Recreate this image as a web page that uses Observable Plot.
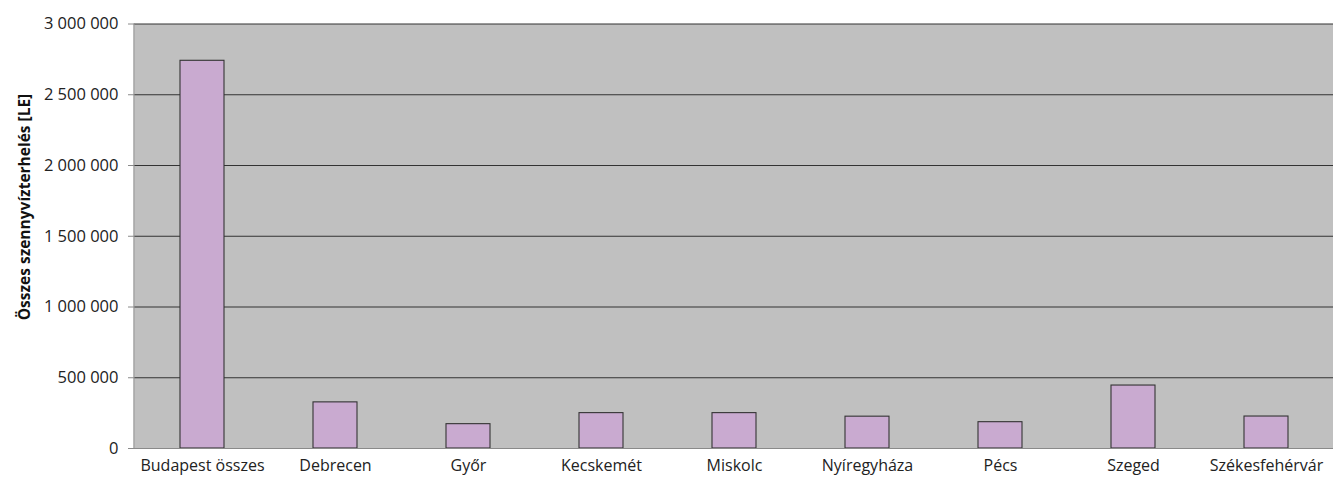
<!DOCTYPE html>
<html>
<head>
<meta charset="utf-8">
<script src="https://cdn.jsdelivr.net/npm/d3@7"></script>
<script src="https://cdn.jsdelivr.net/npm/@observablehq/plot@0.6"></script>
<style>
  html, body { margin: 0; padding: 0; background: #fff; }
  #chart svg { display: block; }
</style>
</head>
<body>
<div id="chart"></div>
<script>
const cities = ["Budapest összes", "Debrecen", "Győr", "Kecskemét", "Miskolc", "Nyíregyháza", "Pécs", "Szeged", "Székesfehérvár"];
const loads = [2740000, 326000, 172000, 250000, 250000, 225000, 186000, 445000, 226000];
const yTicks = [0, 500000, 1000000, 1500000, 2000000, 2500000, 3000000];
const yLabel = "Összes szennyvízterhelés [LE]";

const data = cities.map((c, i) => ({city: c, value: loads[i]}));
const fmt = d => d3.format(",")(d).replace(/,/g, " ");

const chart = Plot.plot({
  width: 1333,
  height: 482,
  marginLeft: 134,
  marginRight: 0,
  marginTop: 23.5,
  marginBottom: 34,
  style: {fontFamily: "'Open Sans', 'Noto Sans', sans-serif", fontSize: "16px", color: "#222", background: "#fff"},
  x: {domain: cities, paddingInner: 0.67, paddingOuter: 0.335, label: null},
  y: {domain: [0, 3000000], label: null},
  marks: [
    Plot.frame({fill: "#c0c0c0", stroke: null}),
    Plot.ruleY(yTicks.filter(d => d > 0), {stroke: "#333", strokeWidth: 1.2}),
    Plot.barY(data, {x: "city", y: "value", fill: "#c9aad0", stroke: "#333", strokeWidth: 1.1}),
    Plot.ruleY([0], {stroke: "#8a8a8a", strokeWidth: 1}),
    Plot.axisY({ticks: yTicks, tickFormat: fmt, tickSize: 6, tickPadding: 10, stroke: "#8a8a8a", label: null, fontSize: 16.5}),
    Plot.axisX({tickSize: 0, tickPadding: 11, label: null, fontSize: 16})
  ]
});

const svg = d3.select(chart);
svg.append("line")
  .attr("x1", 134).attr("x2", 134).attr("y1", 23.5).attr("y2", 448)
  .attr("stroke", "#8a8a8a").attr("stroke-width", 1.2);
svg.append("text")
  .attr("transform", "translate(26,207) rotate(-90)")
  .attr("text-anchor", "middle")
  .attr("dominant-baseline", "middle")
  .style("font-family", "'Open Sans', 'Noto Sans', sans-serif")
  .style("font-weight", "bold")
  .style("font-size", "15.5px")
  .attr("fill", "#111")
  .text(yLabel);

document.getElementById("chart").appendChild(chart);
</script>
</body>
</html>
